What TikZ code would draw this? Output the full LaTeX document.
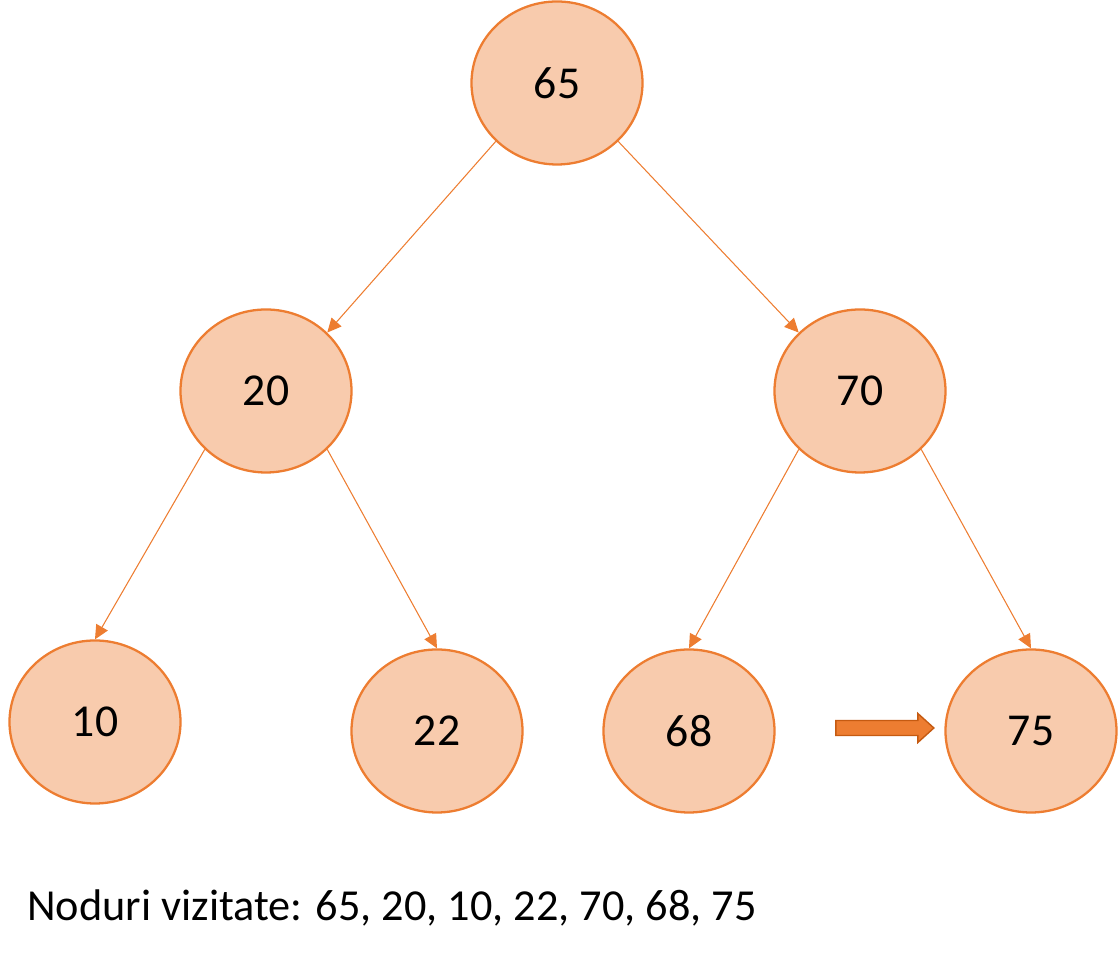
\documentclass[tikz,border=0pt]{standalone}
\usepackage{fontspec}
\setmainfont{Carlito}
\usepackage{tikz}
\usetikzlibrary{arrows.meta,positioning,shapes.geometric}
\definecolor{peach}{HTML}{F8CBAD}
\definecolor{orangeline}{HTML}{ED7D31}
\definecolor{orangedark}{HTML}{C55A11}
\tikzset{
    %Define standard arrow tip
    >={Triangle[length=8pt,width=7.5pt]},
    %Define style for tree nodes
    treenode/.style={
           ellipse,
           draw=orangeline, line width=1.3pt,
           fill=peach,
           minimum width=3.42cm,
           minimum height=3.26cm,
           inner sep=0pt,
           font=\fontsize{26}{30}\selectfont,
           text centered},
    % Define arrow style
    pil/.style={
           ->,
           draw,
           color=orangeline,
           line width=0.6pt},
    % Define style for the block arrow
    blockarrow/.style={
           fill=orangeline,
           draw=orangedark,
           line width=0.8pt}
}

\begin{document}
\begin{tikzpicture}[on grid, main node/.style={treenode}]
\useasboundingbox (0,0) rectangle (22.36,19.2);
 %nodes
\node[main node] (65) at (11.14,17.54) {65};
\node[main node, below left=6.16cm and 5.82cm of 65] (20) {20};
\node[main node, below right=6.16cm and 6.06cm of 65] (70) {70};
\node[main node, below left=6.62cm and 3.42cm of 20] (10) {10};
\node[main node, below right=6.80cm and 3.42cm of 20] (22) {22};
\node[main node, below left=6.80cm and 3.42cm of 70] (68) {68};
\node[main node, below right=6.80cm and 3.42cm of 70] (75) {75};
 %edges
\path[every edge/.style={pil}]
    (65.south west) edge (20.north east)
    (65.south east) edge (70.north west)
    (20.south west) edge (10.north)
    (20.south east) edge (22.north)
    (70.south west) edge (68.north)
    (70.south east) edge (75.north);
 %current node marker
\coordinate (tip) at ([xshift=-0.21cm,yshift=0.06cm]75.west);
\filldraw[blockarrow] (tip) -- ++(-0.32,0.29) -- ++(0,-0.14) -- ++(-1.64,0)
    -- ++(0,-0.30) -- ++(1.64,0) -- ++(0,-0.14) -- cycle;
 %caption
\node[anchor=base west, inner sep=0pt, font=\fontsize{25.2}{30}\selectfont] (caption) at (0.54,0.78) {Noduri vizitate: 65, 20, 10, 22, 70, 68, 75};
\end{tikzpicture}
\end{document}
